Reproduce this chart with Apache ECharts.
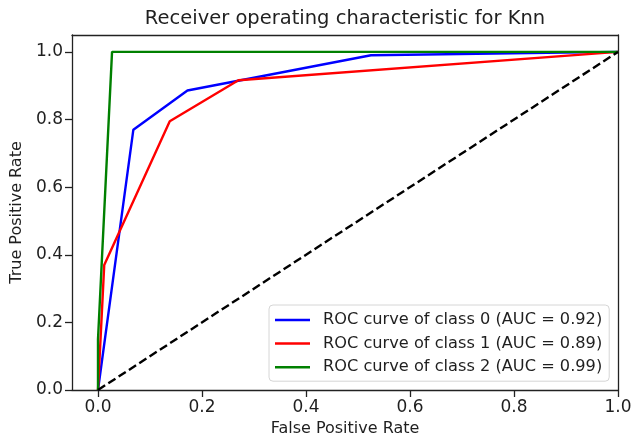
<!DOCTYPE html>
<html>
<head>
<meta charset="utf-8">
<script src="https://cdn.jsdelivr.net/npm/echarts@6/dist/echarts.min.js"></script>
<style>
  html, body { margin: 0; padding: 0; background: #fff; }
  #chart { width: 632px; height: 438px; }
</style>
</head>
<body>
<div id="chart"></div>
<script>
// ROC curves for the Knn classifier, one per class
const fpr0 = [0, 0.068, 0.172, 0.525, 1];
const tpr0 = [0, 0.770, 0.886, 0.990, 1];
const fpr1 = [0, 0.012, 0.138, 0.270, 1];
const tpr1 = [0, 0.370, 0.795, 0.916, 1];
const fpr2 = [0, 0, 0.027, 1];
const tpr2 = [0, 0.15, 1, 1];
const chanceX = [0, 1];
const chanceY = [0, 1];

const seriesNames = [
  'ROC curve of class 0 (AUC = 0.92)',
  'ROC curve of class 1 (AUC = 0.89)',
  'ROC curve of class 2 (AUC = 0.99)'
];
const tickValues = [0, 0.2, 0.4, 0.6, 0.8, 1.0];

const FONT = 'DejaVu Sans';
const INK = '#1f1f1f';
const SPINE = { color: '#222', width: 1.3 };

function pairs(xs, ys) {
  return xs.map((x, i) => [x, ys[i]]);
}

function curve(name, xs, ys, color) {
  return {
    name: name,
    type: 'line',
    data: pairs(xs, ys),
    symbol: 'none',
    lineStyle: { color: color, width: 2.4 },
    itemStyle: { color: color },
    z: 3
  };
}

// bottom/left axes carry ticks and labels; top/right axes only close the frame
function mainAxis(extra) {
  return Object.assign({
    type: 'value',
    nameLocation: 'middle',
    nameTextStyle: { fontFamily: FONT, fontSize: 16, color: INK },
    axisLine: { show: true, onZero: false, lineStyle: SPINE },
    axisTick: {
      show: true, inside: false, length: 7,
      customValues: tickValues,
      lineStyle: SPINE
    },
    axisLabel: {
      show: true, margin: 9,
      customValues: tickValues,
      formatter: v => v.toFixed(1),
      fontFamily: FONT, fontSize: 17, color: INK
    },
    splitLine: { show: false }
  }, extra);
}

function frameAxis(extra) {
  return Object.assign({
    type: 'value',
    axisLine: { show: true, onZero: false, lineStyle: SPINE },
    axisTick: { show: false },
    axisLabel: { show: false },
    splitLine: { show: false }
  }, extra);
}

const chart = echarts.init(document.getElementById('chart'), null, { renderer: 'canvas' });

chart.setOption({
  animation: false,
  backgroundColor: '#ffffff',
  textStyle: { fontFamily: FONT },
  title: {
    text: 'Receiver operating characteristic for Knn',
    left: 345,
    textAlign: 'center',
    top: 9,
    padding: 0,
    textStyle: { fontFamily: FONT, fontSize: 19.5, fontWeight: 'normal', color: INK }
  },
  grid: {
    left: 72, right: 14, top: 35, bottom: 48,
    outerBoundsMode: 'none',
    containLabel: false
  },
  legend: {
    orient: 'vertical',
    left: 269,
    top: 305,
    padding: [6, 7, 5, 6],
    icon: 'rect',
    itemWidth: 35,
    itemHeight: 2.5,
    itemGap: 5.6,
    backgroundColor: 'rgba(255,255,255,0.85)',
    borderColor: '#d6d6d6',
    borderWidth: 1,
    borderRadius: 4,
    data: seriesNames,
    textStyle: {
      fontFamily: FONT, fontSize: 16.2, color: INK,
      lineHeight: 18,
      padding: [0, 0, 0, 8]
    }
  },
  xAxis: [
    mainAxis({ min: -0.05, max: 1.0, position: 'bottom', name: 'False Positive Rate', nameGap: 30 }),
    frameAxis({ min: -0.05, max: 1.0, position: 'top' })
  ],
  yAxis: [
    mainAxis({ min: 0, max: 1.05, position: 'left', name: 'True Positive Rate', nameGap: 40 }),
    frameAxis({ min: 0, max: 1.05, position: 'right' })
  ],
  series: [
    curve(seriesNames[0], fpr0, tpr0, '#0000ff'),
    curve(seriesNames[1], fpr1, tpr1, '#ff0000'),
    curve(seriesNames[2], fpr2, tpr2, '#008000'),
    {
      name: 'chance',
      type: 'line',
      data: pairs(chanceX, chanceY),
      symbol: 'none',
      lineStyle: { color: '#000000', width: 2.4, type: [8.5, 3.8] },
      z: 4
    }
  ]
});
</script>
</body>
</html>
